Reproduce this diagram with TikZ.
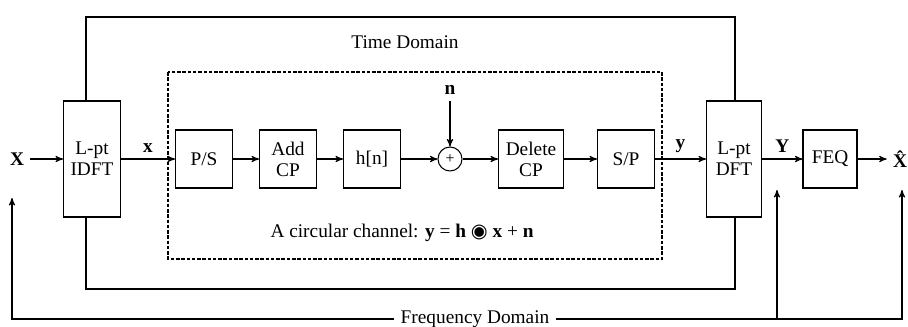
\documentclass[tikz,border=0pt]{standalone}
\usepackage{fontspec}
\setmainfont{Liberation Serif}
\newfontfamily\symfont{DejaVu Sans}
\usetikzlibrary{arrows}
\newcommand\cconv{{\symfont\char"25C9}}

\begin{document}
\begin{tikzpicture}[->,semithick,>=stealth',x=0.02cm,y=-0.02cm]
    \tikzstyle{block}=[draw=black, rectangle, fill=white, minimum width=1.14cm, minimum height=1.16cm, align=center, inner sep=1pt, font=\fontsize{11}{12}\selectfont]
    \tikzstyle{tall}=[style=block, minimum width=1.14cm, minimum height=2.32cm]
    \tikzstyle{sum}=[draw=black, circle, fill=white, minimum size=0.48cm, inner sep=0pt]
    \tikzstyle{sig}=[font=\fontsize{11}{12}\selectfont\bfseries, text=black]
    \tikzstyle{lbl}=[font=\fontsize{11}{12}\selectfont, text=black]

    \useasboundingbox (0,0) rectangle (908,326);

    % time domain and channel frames
    \draw[-] (86,17) rectangle (735,289);
    \draw[-,dash pattern=on 2pt off 1pt] (168,72) rectangle (662,259);
    \node[lbl] (time) at (405,42) {Time Domain};
    \node[lbl] (circ) at (402,233) {A circular channel: \textbf{y} = \textbf{h} \cconv{} \textbf{x} + \textbf{n}};

    \node[sig] (X)      at (17,159)  {X};
    \node[tall] (idft)  at (92,159)  {L-pt\\IDFT};
    \node[block] (ps)   at (204,159) {P/S};
    \node[block] (addcp) at (288,159) {Add\\CP};
    \node[block] (hn)   at (372,159) {h[n]};
    \node[sum] (plus)   at (450,159) {\small +};
    \node[sig] (n)      at (450,90)  {n};
    \node[block, minimum width=1.3cm] (delcp) at (531,159) {Delete\\CP};
    \node[block] (sp)   at (626,159) {S/P};
    \node[tall, minimum width=1.1cm] (dft) at (734,159) {L-pt\\DFT};
    \node[block, minimum width=1.08cm] (feq) at (830,159) {FEQ};
    \node[sig] (xhat)   at (900,159) {\^{X}};
    \path
     (X) edge[] (idft)
     (idft) edge node[sig,above] {x} (ps)
     (ps) edge (addcp)
     (addcp) edge (hn)
     (hn) edge (plus)
     (n) edge (plus)
     (plus) edge (delcp)
     (delcp) edge (sp)
     (sp) edge node[sig,above] {y} (dft)
     (dft) edge node[sig,above] {Y} (feq)
     (feq) edge (xhat)
     ;

    % frequency domain
    \node[lbl, fill=white] (freq) at (475,319) {Frequency Domain};
    \coordinate (fl) at (12,319);
    \coordinate (xin) at (12,198);
    \coordinate (fr) at (902,319);
    \coordinate (xout) at (902,190);
    \coordinate (fy) at (777,319);
    \coordinate (yin) at (777,190);
    \draw (freq.west) -- (fl) -- (xin);
    \draw (freq.east) -- (fr) -- (xout);
    \draw (fy) -- (yin);
  \end{tikzpicture}
\end{document}
